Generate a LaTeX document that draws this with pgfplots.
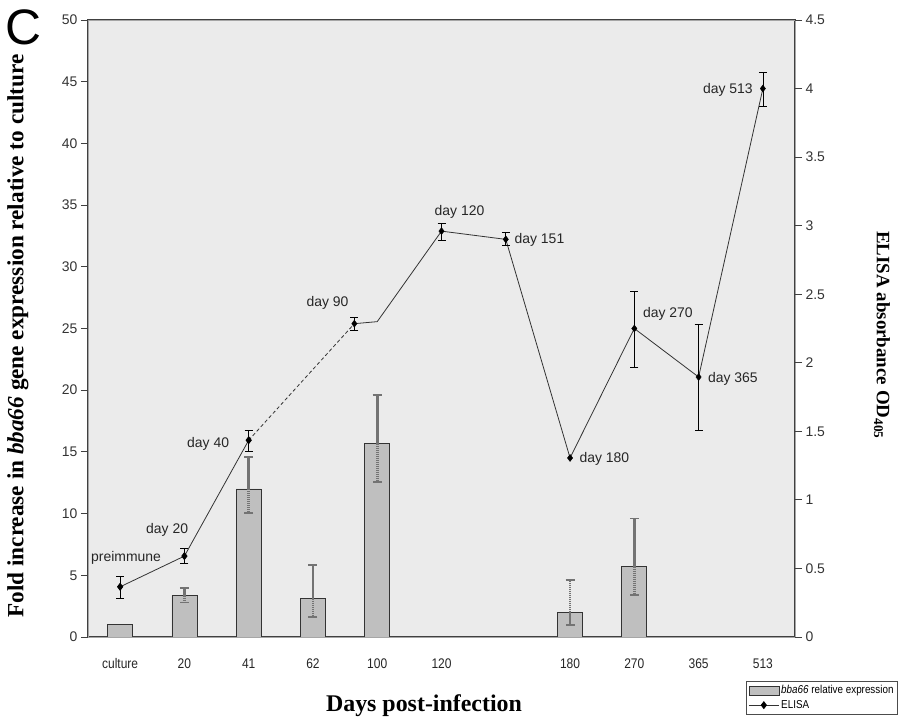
\documentclass[border=0pt]{standalone}
\usepackage{fontspec}
\setmainfont{Liberation Sans}
\newfontfamily\serifbf{Liberation Serif}
\newfontfamily\narrow{Liberation Sans}[FakeStretch=0.86]
\usepackage{pgfplots}
\pgfplotsset{compat=1.18}

\pgfplotstableread{
x y ep em
1 3.35 0.6 0.55
2 12.0 2.6 1.95
3 3.1 2.73 1.5
4 15.67 3.93 3.11
7 2.0 2.6 1.05
8 5.7 3.9 2.3
}\barsdata

\pgfplotstableread{
x y ep em
0 0.366 0.074 0.086
1 0.59 0.056 0.053
2 1.435 0.075 0.078
}\elisaA

\pgfplotstableread{
x y ep em
3.644 2.285 0.045 0.049
5 2.96 0.06 0.07
6 2.90 0.05 0.045
8 2.25 0.27 0.28
9 1.896 0.384 0.386
10 4.0 0.12 0.13
}\elisaB

\begin{document}
\begin{tikzpicture}[x=1bp,y=1bp]
\useasboundingbox (0,0) rectangle (902,719);
\begin{axis}[
  at={(88bp,82bp)}, anchor=south west,
  scale only axis, width=707bp, height=617bp,
  xmin=-0.5, xmax=10.5, ymin=0, ymax=50,
  axis background/.style={fill=black!8},
  axis line style={draw=black!75, line width=0.8bp, double=black!35, double distance=0.9bp},
  xtick={0,...,10},
  xticklabels={culture,20,41,62,100,120,{},180,270,365,513},
  x tick label style={font=\narrow\fontsize{14}{16}\selectfont, text=black!85, yshift=-11bp},
  xtick style={draw=none},
  extra x ticks={-0.5,0.5,1.5,2.5,3.5,4.5,5.5,6.5,7.5,8.5,9.5,10.5},
  extra x tick labels={},
  extra x tick style={tick align=center, tick style={draw=black!75, line width=0.8bp}},
  ytick={0,5,...,50},
  ytick pos=left,
  tick align=outside,
  major tick length=7bp,
  ytick style={draw=black!75, line width=0.8bp},
  y tick label style={font=\fontsize{14}{16}\selectfont, text=black!80},
  /pgf/number format/assume math mode=true,
  legend style={at={(0.931,-0.072)}, anchor=north west, draw=black!70, fill=white,
    font=\narrow\fontsize{11.5}{13}\selectfont, inner sep=2bp, row sep=1bp},
  legend cell align=left,
]
\addplot[ybar, bar width=25bp, bar shift=0pt, fill=black!25, draw=black!80, line width=0.8bp, forget plot]
  coordinates {(0,1.0)};
\addplot[ybar, bar width=25bp, bar shift=0pt, fill=black!25, draw=black!80, line width=0.8bp,
  legend image code/.code={\draw[fill=black!25, draw=black!80, line width=0.6bp] (0bp,-4.5bp) rectangle (30bp,4.5bp);},
  error bars/.cd, y dir=both, y explicit,
  error bar style={draw=black!55, line width=2.6bp, dash pattern=on 1.5bp off 0.5bp},
  error mark options={draw=black!55, line width=1.8bp, mark size=4.5bp, rotate=90}]
  table[x=x, y=y, y error plus=ep, y error minus=em] {\barsdata};
\addlegendentry{\textit{bba66} relative expression}
\addlegendimage{black!80, line width=0.8bp, mark=diamond*, mark options={black}, mark size=3bp,
  legend image code/.code={\draw[black!80, line width=0.8bp] (0bp,0bp) -- (30bp,0bp);
    \fill[black] (15bp,0bp) +(0,3.4bp) -- +(2.6bp,0) -- +(0,-3.4bp) -- +(-2.6bp,0) -- cycle;}}
\addlegendentry{ELISA}
\end{axis}

\begin{axis}[
  at={(88bp,82bp)}, anchor=south west,
  scale only axis, width=707bp, height=617bp,
  xmin=-0.5, xmax=10.5, ymin=0, ymax=4.5,
  axis x line=none, axis y line*=right,
  axis line style={draw=none},
  ytick={0,0.5,1,1.5,2,2.5,3,3.5,4,4.5},
  tick align=outside,
  major tick length=7bp,
  ytick style={draw=black!75, line width=0.8bp},
  y tick label style={font=\fontsize{14}{16}\selectfont, text=black!80},
  /pgf/number format/assume math mode=true,
  clip=false,
]
\addplot[black!80, line width=0.8bp, mark=diamond*, mark options={black, solid}, mark size=3.5bp,
  error bars/.cd, y dir=both, y explicit,
  error bar style={black, line width=0.7bp},
  error mark options={black, line width=0.7bp, mark size=4bp, rotate=90}]
  table[x=x, y=y, y error plus=ep, y error minus=em] {\elisaA};
\addplot[black!80, line width=0.8bp, dash pattern=on 3.5bp off 2.5bp] coordinates {(2,1.435) (3.644,2.285)};
\addplot[black!80, line width=0.8bp] coordinates {(3.644,2.285) (4,2.30) (5,2.96) (6,2.90) (7,1.306) (8,2.25) (9,1.896) (10,4.0)};
\addplot[only marks, mark=diamond*, mark options={black}, mark size=3.5bp,
  error bars/.cd, y dir=both, y explicit,
  error bar style={black, line width=0.7bp},
  error mark options={black, line width=0.7bp, mark size=4bp, rotate=90}]
  table[x=x, y=y, y error plus=ep, y error minus=em] {\elisaB};
\addplot[only marks, mark=diamond*, mark options={black}, mark size=3.5bp] coordinates {(7,1.306)};

\begin{scope}[every node/.style={font=\fontsize{14}{16}\selectfont, text=black!85, inner sep=0pt}]
\node at (axis cs:0.093,0.578) {preimmune};
\node at (axis cs:0.731,0.779) {day 20};
\node at (axis cs:1.369,1.406) {day 40};
\node at (axis cs:3.227,2.44) {day 90};
\node at (axis cs:5.28,3.098) {day 120};
\node at (axis cs:6.524,2.899) {day 151};
\node at (axis cs:7.535,1.296) {day 180};
\node at (axis cs:8.523,2.353) {day 270};
\node at (axis cs:9.533,1.879) {day 365};
\node at (axis cs:9.456,3.99) {day 513};
\end{scope}
\end{axis}

\node[font=\fontsize{50}{50}\selectfont] at (23,692) {C};
\node[rotate=90, font=\serifbf\bfseries\fontsize{23.3}{25}\selectfont] at (18,383)
  {Fold increase in \textit{bba66} gene expression relative to culture};
\node[rotate=-90, font=\serifbf\bfseries\fontsize{19}{21}\selectfont] at (882,384)
  {ELISA absorbance OD\textsubscript{405}};
\node[font=\serifbf\bfseries\fontsize{24}{26}\selectfont] at (424,13) {Days post-infection};
\end{tikzpicture}
\end{document}
